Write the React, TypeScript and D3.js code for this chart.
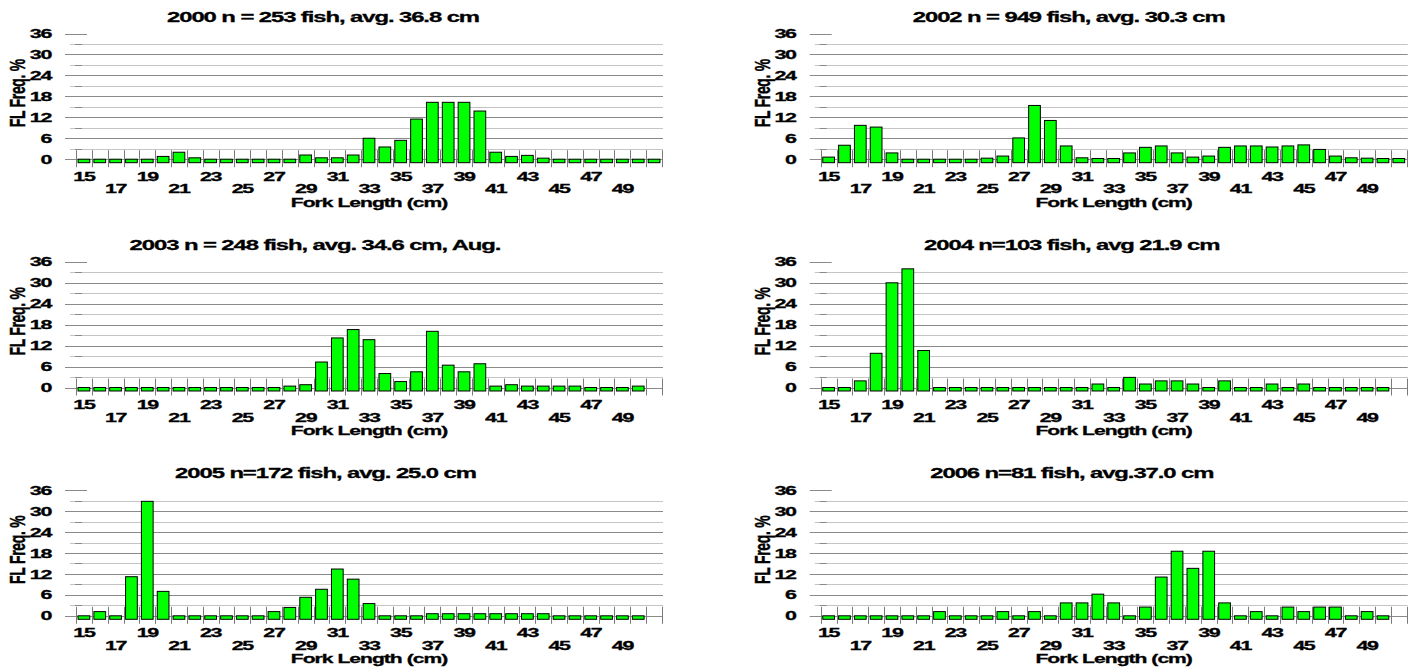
import React, { useEffect, useRef } from 'react';
import * as d3 from 'd3';

// fork length classes (cm)
const lengths = [15, 16, 17, 18, 19, 20, 21, 22, 23, 24, 25, 26, 27, 28, 29, 30, 31, 32, 33,
  34, 35, 36, 37, 38, 39, 40, 41, 42, 43, 44, 45, 46, 47, 48, 49, 50, 51];
const xLabels = [15, 17, 19, 21, 23, 25, 27, 29, 31, 33, 35, 37, 39, 41, 43, 45, 47, 49];
const yLabels = [0, 6, 12, 18, 24, 30, 36];
const gridValues = [0, 3, 6, 9, 12, 15, 18, 21, 24, 27, 30, 33];

// frequency in % per length class (null = no class drawn)
const fl2000 = [0, 0, 0, 0, 0, 0.8, 2.0, 0.4, 0, 0, 0, 0, 0, 0, 1.2, 0.4, 0.4, 1.2, 6.0,
  3.5, 5.4, 11.5, 16.3, 16.3, 16.3, 13.8, 2.0, 0.8, 1.1, 0.3, 0, 0, 0, 0, 0, 0, 0];
const fl2002 = [0.6, 4.0, 9.7, 9.2, 1.8, 0, 0, 0, 0, 0, 0.3, 0.9, 6.1, 15.4, 11.1, 3.8, 0.4, 0.2, 0.2,
  1.8, 3.4, 3.8, 1.8, 0.6, 0.9, 3.4, 3.8, 3.8, 3.5, 3.8, 4.1, 2.8, 0.9, 0.4, 0.3, 0.2, 0.2];
const fl2003 = [0, 0, 0, 0, 0, 0, 0, 0, 0, 0, 0, 0, 0, 0.4, 0.8, 7.3, 14.2, 16.6, 13.7,
  4.0, 1.7, 4.5, 16.1, 6.4, 4.5, 6.8, 0.4, 0.8, 0.4, 0.4, 0.4, 0.4, 0, 0, 0, 0.4, null];
const fl2004 = [0, 0, 1.9, 9.8, 30.0, 34.0, 10.6, 0, 0, 0, 0, 0, 0, 0, 0, 0, 0, 1.0, 0,
  2.9, 1.0, 1.9, 1.9, 1.0, 0, 1.9, 0, 0, 1.0, 0, 1.0, 0, 0, 0, 0, 0, null];
const fl2005 = [0, 1.2, 0, 11.2, 32.8, 7.0, 0, 0, 0, 0, 0, 0, 1.2, 2.4, 5.3, 7.6, 13.4, 10.5, 3.5,
  0, 0, 0, 0.6, 0.6, 0.6, 0.6, 0.6, 0.6, 0.6, 0.6, 0, 0, 0, 0, 0, 0, null];
const fl2006 = [0, 0, 0, 0, 0, 0, 0, 1.2, 0, 0, 0, 1.2, 0, 1.2, 0, 3.7, 3.7, 6.2, 3.7,
  0, 2.5, 11.1, 18.5, 13.6, 18.5, 3.7, 0, 1.2, 0, 2.5, 1.2, 2.5, 2.5, 0, 1.2, 0, null];

const titles = [
  '2000 n = 253 fish, avg. 36.8 cm',
  '2002 n = 949 fish, avg. 30.3 cm',
  '2003 n = 248 fish, avg. 34.6 cm, Aug.',
  '2004 n=103 fish, avg 21.9 cm',
  '2005 n=172 fish, avg. 25.0 cm',
  '2006 n=81 fish, avg.37.0 cm',
];
const series = [fl2000, fl2002, fl2003, fl2004, fl2005, fl2006];

// layout
const titleCenters = [323, 1068.7, 315, 1071.7, 325.5, 1071.8];
const colOffset = 744.7;
const rowStep = 228.3;
const font = "'Liberation Sans', Arial, sans-serif";

const App = () => {
  const ref = useRef<SVGSVGElement | null>(null);

  useEffect(() => {
    const svg = d3.select(ref.current);
    svg.selectAll('*').remove();

    // stretched, tightly set bold text like the original picture
    const text = (g: any, x: number, y: number, s: string, size: number, sx: number,
      ls: number, anchor: string, rot = '') => {
      g.append('text')
        .attr('transform', `translate(${x},${y}) scale(${sx},1)${rot}`)
        .attr('text-anchor', anchor)
        .style('font-family', font)
        .style('font-weight', 'bold')
        .style('font-size', `${size}px`)
        .style('letter-spacing', `${ls}px`)
        .attr('fill', '#000')
        .attr('stroke', '#000')
        .attr('stroke-width', 0.3)
        .text(s);
    };

    series.forEach((values, i) => {
      const col = i % 2;
      const row = Math.floor(i / 2);
      const left = 76 + col * colOffset;
      const right = 662 + col * colOffset;
      const zero = 159.2 + row * rowStep;
      const unit = 3.49;

      const y = d3.scaleLinear().domain([-1, 36]).range([zero + unit, zero - unit * 36]);
      const x = d3.scaleBand<string>()
        .domain(lengths.map(String))
        .range([left, right])
        .paddingInner(0.26)
        .paddingOuter(0.13);

      const g = svg.append('g');

      // grid lines
      gridValues.forEach(v => {
        const major = v % 6 === 0;
        const yy = Math.round(y(v)) + 0.5;
        g.append('line')
          .attr('x1', left - (major ? 11 : 6)).attr('x2', right + 1)
          .attr('y1', yy).attr('y2', yy)
          .attr('stroke', major ? '#8a8a8a' : '#c4c4c4');
        if (!major) {
          g.append('line')
            .attr('x1', left - 1).attr('x2', left + 6)
            .attr('y1', yy).attr('y2', yy)
            .attr('stroke', '#8a8a8a');
        }
      });
      const y36 = Math.round(y(36)) + 0.5;
      g.append('line')
        .attr('x1', left - 11).attr('x2', left + 11)
        .attr('y1', y36).attr('y2', y36)
        .attr('stroke', '#8a8a8a');

      // category ticks
      const step = x.step();
      lengths.concat([0]).forEach((_, k) => {
        const xx = Math.round(left + k * step) + 0.5;
        g.append('line')
          .attr('x1', xx).attr('x2', xx)
          .attr('y1', zero - 9).attr('y2', zero + 8)
          .attr('stroke', '#7a7a7a');
      });

      // bars
      g.selectAll('rect.bar')
        .data(values.map((v, k) => ({ v, k })).filter(d => d.v !== null))
        .enter().append('rect')
        .attr('class', 'bar')
        .attr('x', d => (x(String(lengths[d.k])) as number))
        .attr('width', x.bandwidth())
        .attr('y', d => y(d.v as number))
        .attr('height', d => y(-1) - y(d.v as number))
        .attr('fill', '#00ff00')
        .attr('stroke', '#000')
        .attr('stroke-width', 1);

      // y labels
      yLabels.forEach(v => text(g, left - 25, y(v) + 4.6, String(v), 13, 1.65, -0.8, 'end'));

      // x labels
      xLabels.forEach(v => {
        const cx = (x(String(v)) as number) + x.bandwidth() / 2;
        const yy = (v - 15) % 4 === 0 ? zero + 21.6 : zero + 34.2;
        text(g, cx, yy, String(v), 13, 1.65, -0.8, 'middle');
      });

      text(g, (left + right) / 2, zero + 47.3, 'Fork Length (cm)', 13, 1.62, -0.6, 'middle');
      text(g, left - 51, zero - 66, 'FL Freq. %', 14, 1.6, -0.3, 'middle', ' rotate(-90)');
      text(g, titleCenters[i], zero - 137.6, titles[i], 15.4, 1.55, -0.7, 'middle');
    });
  }, []);

  return (
    <svg
      ref={ref}
      width={1418}
      height={668}
      style={{ position: 'absolute', left: 0, top: 0, background: '#fff' }}
    />
  );
};

export default App;
